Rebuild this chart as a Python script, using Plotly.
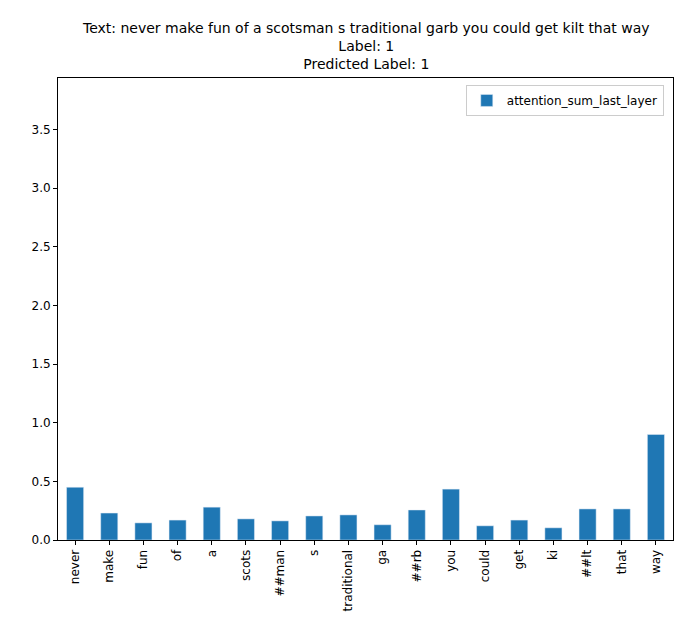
import plotly.graph_objects as go

tokens = ["never","make","fun","of","a","scots","##man","s","traditional","ga","##rb","you","could","get","ki","##lt","that","way"]
values = [0.45,0.23,0.146,0.17,0.28,0.18,0.163,0.205,0.214,0.13,0.256,0.434,0.121,0.17,0.104,0.265,0.265,0.9]
yticks = [0.0,0.5,1.0,1.5,2.0,2.5,3.0,3.5]
title_lines = ["Text: never make fun of a scotsman s traditional garb you could get kilt that way", "Label: 1", "Predicted Label: 1"]

fig = go.Figure(go.Bar(x=tokens, y=values, name="attention_sum_last_layer",
                       marker_color="#1f77b4", width=0.5, showlegend=True))
ax = dict(showline=True, linecolor="black", linewidth=1, mirror=True, ticks="outside",
          ticklen=4, tickcolor="black", showgrid=False, zeroline=False, automargin=False)
fig.update_layout(
    width=697, height=623, plot_bgcolor="white", paper_bgcolor="white",
    margin=dict(l=50, r=32, t=70, b=91),
    font=dict(family="DejaVu Sans", size=12, color="black"),
    xaxis=dict(**ax, tickangle=-90, range=[-0.5, 17.5]),
    yaxis=dict(**ax, range=[0, 3.94], tickvals=yticks, ticktext=[f"{v:.1f}" for v in yticks]),
    legend=dict(x=0.985, y=0.985, xanchor="right", yanchor="top", bordercolor="#cccccc",
                borderwidth=1, font=dict(size=12)),
)
fig.add_annotation(text="<br>".join(title_lines), xref="paper", yref="paper", x=0.5, y=1,
                   xanchor="center", yanchor="bottom", yshift=4, showarrow=False,
                   font=dict(size=14), align="center")
fig.write_html("out.html")
